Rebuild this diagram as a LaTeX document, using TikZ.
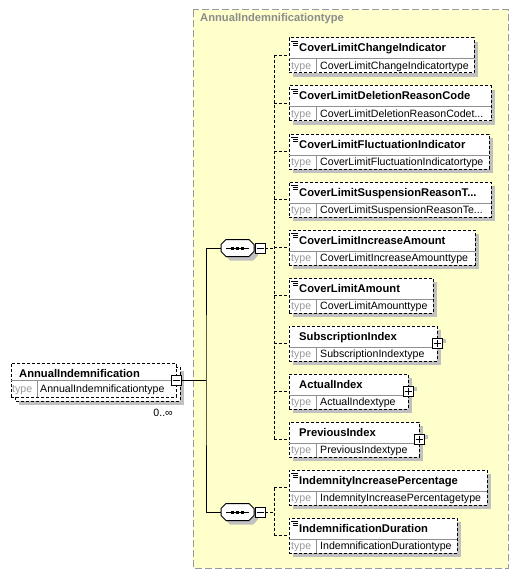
\documentclass[tikz,border=0pt]{standalone}
\usepackage{fontspec}
\setmainfont{Liberation Sans}
\usetikzlibrary{calc}
\definecolor{yelbg}{HTML}{FFFFCC}
\definecolor{boxgray}{HTML}{999999}
\definecolor{shadowc}{HTML}{C0C0C0}
\definecolor{divc}{HTML}{909090}
\definecolor{titlec}{HTML}{8C8C8C}
\tikzset{
  elemframe/.style={draw=black, line width=1pt, dash pattern=on 3pt off 2pt, fill=white, inner sep=0pt, outer sep=0pt},
  divline/.style={draw=divc, line width=1pt},
  nametext/.style={font=\fontsize{11.2}{13}\selectfont\bfseries, inner sep=0pt, anchor=base west},
  typelbl/.style={font=\fontsize{10.6}{12}\selectfont, text=boxgray, inner sep=0pt, anchor=base west},
  typetext/.style={font=\fontsize{10.6}{12}\selectfont, inner sep=0pt, anchor=base west},
  conn/.style={draw=black, line width=1pt, dash pattern=on 3pt off 2pt},
  solidconn/.style={draw=black, line width=1pt},
  ctrlbox/.style={draw=black, line width=1pt, fill=white, minimum size=10pt, inner sep=0pt, outer sep=0pt},
  seqanchor/.style={minimum width=33pt, minimum height=17pt, inner sep=0pt, outer sep=0pt},
}
% id, left, top, width, name, type
\newcommand\xelem[6]{%
  \fill[shadowc] (#2+4,#3+4) rectangle (#2+#4+4,#3+39);
  \node[elemframe, minimum width=#4pt, minimum height=35pt, anchor=north west] (#1) at (#2,#3) {};
  \draw[divline] ($(#1.north west)+(0,21)$) -- ($(#1.north east)+(0,21)$);
  \draw[divline] ($(#1.north west)+(27,21)$) -- ($(#1.south west)+(27,0)$);
  \node[nametext] (#1-n) at ($(#1.north west)+(10,14)$) {#5};
  \node[typelbl] (#1-l) at ($(#1.north west)+(2,31.5)$) {type};
  \node[typetext] (#1-t) at ($(#1.north west)+(31,31.5)$) {#6};
}
\newcommand\xicon[1]{%
  \draw[black, line width=0.8pt] ($(#1.north west)+(2,3)$) -- ++(7,0);
  \draw[black, line width=0.8pt] ($(#1.north west)+(4,5)$) -- ++(5,0);
  \draw[black, line width=0.8pt] ($(#1.north west)+(4,7)$) -- ++(5,0);
}
\newcommand\xplus[1]{%
  \fill[shadowc] ($(#1.north east)+(1,13)$) rectangle ++(8,4);
  \node[ctrlbox] (#1-p) at ($(#1.north east)+(0,17)$) {};
  \draw[black, line width=1pt] ($(#1-p.center)+(-3.5,0)$) -- ++(7,0);
  \draw[black, line width=1pt] ($(#1-p.center)+(0,-3.5)$) -- ++(0,7);
}
% id, center x, center y
\newcommand\xseq[3]{%
  \node[seqanchor] (#1) at (#2,#3) {};
  \fill[shadowc] ($(#1.west)+(4,4)$) -- ++(0,-3.5) -- ++(5,-5) -- ++(23,0) -- ++(5,5) -- ++(0,7) -- ++(-5,5) -- ++(-23,0) -- ++(-5,-5) -- cycle;
  \draw[black, line width=1pt, fill=white] (#1.west) -- ++(0,-3.5) -- ++(5,-5) -- ++(23,0) -- ++(5,5) -- ++(0,7) -- ++(-5,5) -- ++(-23,0) -- ++(-5,-5) -- cycle;
  \draw[black, line width=1pt] ($(#1.center)+(-11.5,0)$) -- ++(23,0);
  \fill[black] ($(#1.center)+(-6.5,-1.5)$) rectangle ++(3,3);
  \fill[black] ($(#1.center)+(-1.5,-1.5)$) rectangle ++(3,3);
  \fill[black] ($(#1.center)+(3.5,-1.5)$) rectangle ++(3,3);
  \node[ctrlbox, anchor=west] (#1-m) at ($(#1.east)+(1,0)$) {};
  \draw[black, line width=1pt] ($(#1-m.center)+(-3.5,0)$) -- ++(7,0);
}
\begin{document}
\begin{tikzpicture}[x=1pt, y=-1pt]
\useasboundingbox (0,0) rectangle (519,575);
% outer complex type box
\draw[draw=boxgray, line width=1pt, dash pattern=on 7pt off 3pt, fill=yelbg] (193,10) rectangle (508,568);
\node[font=\fontsize{11.2}{13}\selectfont\bfseries, text=titlec, inner sep=0pt, anchor=base west] (title) at (200,22) {AnnualIndemnificationtype};

% root element (multiple occurrence)
\fill[shadowc] (19,371) rectangle (184,405);
\draw[elemframe] (15,367) rectangle (180,401);
\node[elemframe, minimum width=165pt, minimum height=34pt, anchor=north west] (root) at (11,363) {};
\draw[divline] ($(root.north west)+(0,17)$) -- ($(root.north east)+(0,17)$);
\draw[divline] ($(root.north west)+(26,17)$) -- ($(root.south west)+(26,0)$);
\node[nametext] (root-n) at ($(root.north west)+(8,14)$) {AnnualIndemnification};
\node[typelbl] (root-l) at ($(root.north west)+(1,29)$) {type};
\node[typetext] (root-t) at ($(root.north west)+(29,29)$) {AnnualIndemnificationtype};
\node[ctrlbox] (root-m) at ($(root.east)+(0,0)$) {};
\draw[black, line width=1pt] ($(root-m.center)+(-3.5,0)$) -- ++(7,0);
\node[font=\fontsize{10.6}{12}\selectfont, inner sep=0pt, anchor=base east] (occ) at (173,416) {0..∞};

% sequences
\xseq{s1}{237.5}{248}
\xseq{s2}{237.5}{512}

% elements of sequence 1
\xelem{e1}{289}{38}{185}{CoverLimitChangeIndicator}{CoverLimitChangeIndicatortype}
\xicon{e1}
\xelem{e2}{289}{86}{202}{CoverLimitDeletionReasonCode}{CoverLimitDeletionReasonCodet...}
\xicon{e2}
\xelem{e3}{289}{134}{200}{CoverLimitFluctuationIndicator}{CoverLimitFluctuationIndicatortype}
\xicon{e3}
\xelem{e4}{289}{182}{202}{CoverLimitSuspensionReasonT...}{CoverLimitSuspensionReasonTe...}
\xicon{e4}
\xelem{e5}{289}{230}{186}{CoverLimitIncreaseAmount}{CoverLimitIncreaseAmounttype}
\xicon{e5}
\xelem{e6}{289}{278}{144}{CoverLimitAmount}{CoverLimitAmounttype}
\xicon{e6}
\xelem{e7}{289}{326}{148}{SubscriptionIndex}{SubscriptionIndextype}
\xplus{e7}
\xelem{e8}{289}{374}{119}{ActualIndex}{ActualIndextype}
\xplus{e8}
\xelem{e9}{289}{422}{130}{PreviousIndex}{PreviousIndextype}
\xplus{e9}
% elements of sequence 2
\xelem{e10}{289}{470}{198}{IndemnityIncreasePercentage}{IndemnityIncreasePercentagetype}
\xicon{e10}
\xelem{e11}{289}{518}{168}{IndemnificationDuration}{IndemnificationDurationtype}
\xicon{e11}

% connectors root -> sequences
\coordinate (trunk) at (206,380);
\draw[solidconn] (root-m.east) -- (trunk);
\draw[solidconn] (s1.west) -| (trunk) |- (s2.west);

% bus of sequence 1
\coordinate (bus1) at (274,248);
\draw[conn] (s1-m.east) -- (bus1);
\draw[conn] (bus1 |- e1.west) -- (bus1 |- e9.west);
\foreach \e in {e1,e2,e3,e4,e5,e6,e7,e8,e9}{
  \draw[conn] (bus1 |- \e.west) -- (\e.west);
}
% bus of sequence 2
\coordinate (bus2) at (274,512);
\draw[conn] (s2-m.east) -- (bus2);
\draw[conn] (bus2 |- e10.west) -- (bus2 |- e11.west);
\foreach \e in {e10,e11}{
  \draw[conn] (bus2 |- \e.west) -- (\e.west);
}
\end{tikzpicture}
\end{document}
